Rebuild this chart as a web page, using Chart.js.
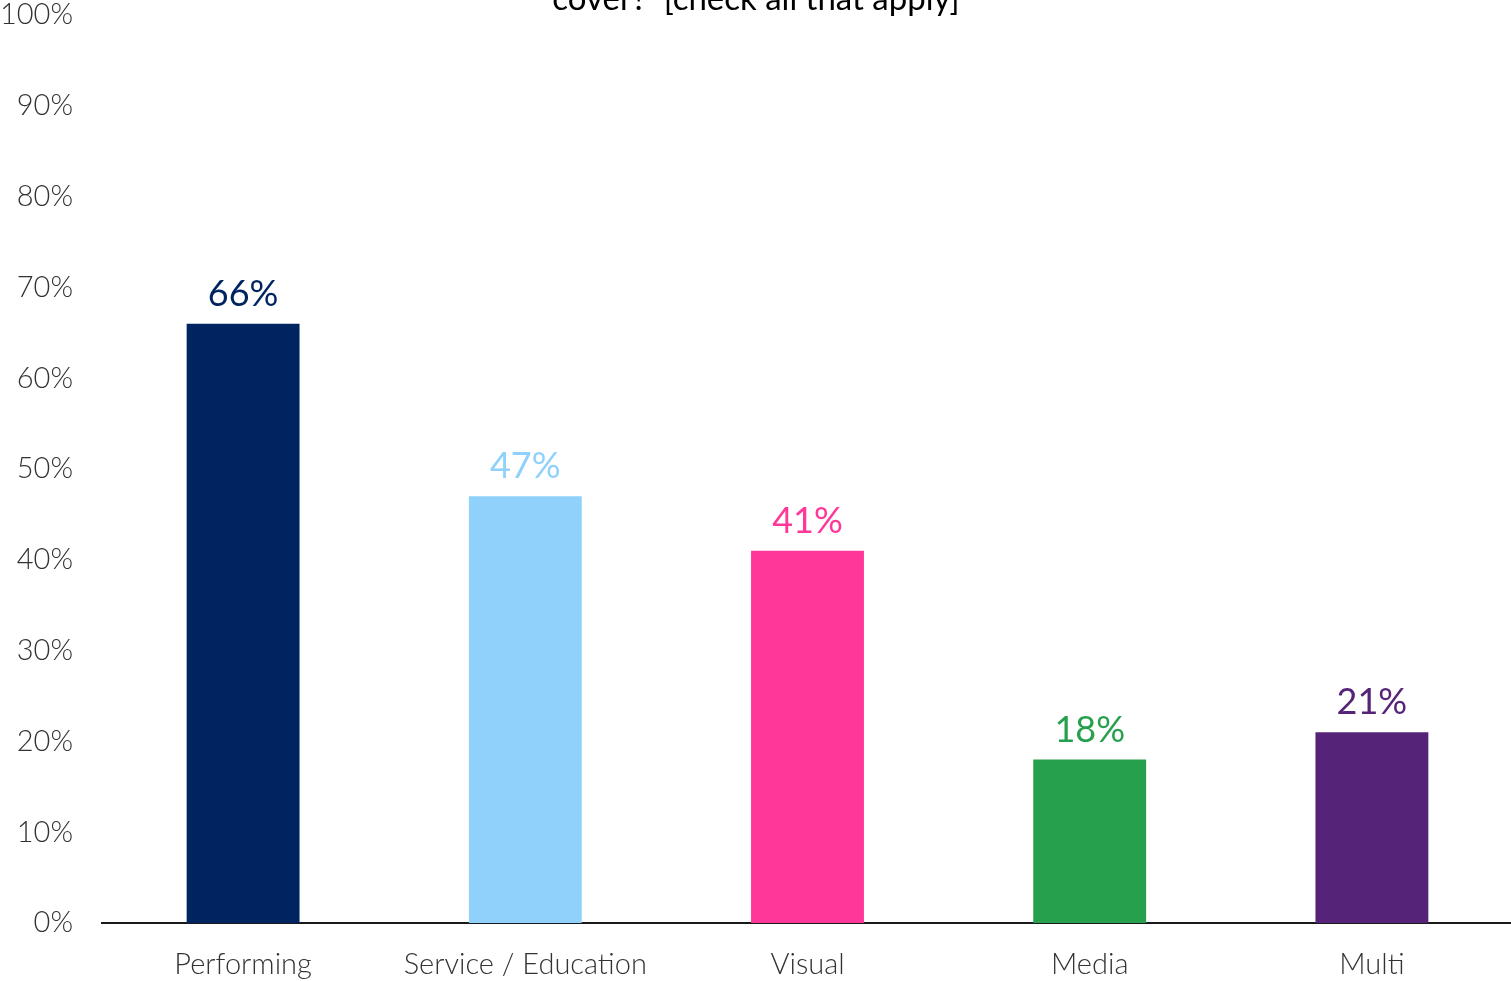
<!DOCTYPE html>
<html>
<head>
<meta charset="utf-8">
<title>Disciplines covered</title>
<script src="https://cdn.jsdelivr.net/npm/chart.js@4/dist/chart.umd.min.js"></script>
<style>
  html, body { margin: 0; padding: 0; background: #ffffff; overflow: hidden; }
  #wrap { width: 1513px; height: 981px; position: relative; }
</style>
</head>
<body>
<div id="wrap"><canvas id="chart"></canvas></div>
<script>
// Data
const categories = ['Performing', 'Service / Education', 'Visual', 'Media', 'Multi'];
const shares = [66, 47, 41, 18, 21];
const barColors = ['#00245f', '#8fd1fa', '#ff3799', '#26a04d', '#552377'];
const yTicks = [0, 10, 20, 30, 40, 50, 60, 70, 80, 90, 100];
const titleTail = 'cover?  [check all that apply]';

const FONT = 'Lato, "Open Sans", sans-serif';

// Second line of the question, sitting at the very top edge of the page
const titlePlugin = {
  id: 'titleTail',
  afterDraw(chart) {
    const ctx = chart.ctx;
    ctx.save();
    ctx.font = '400 33px ' + FONT;
    ctx.fillStyle = '#000000';
    ctx.textAlign = 'center';
    ctx.textBaseline = 'alphabetic';
    ctx.fillText(titleTail, 756, 10);
    ctx.restore();
  }
};

// Percentage labels above each bar, coloured like the bar
const valueLabels = {
  id: 'valueLabels',
  afterDatasetsDraw(chart) {
    const ctx = chart.ctx;
    const meta = chart.getDatasetMeta(0);
    ctx.save();
    ctx.font = '400 36px ' + FONT;
    ctx.textAlign = 'center';
    ctx.textBaseline = 'alphabetic';
    meta.data.forEach((bar, i) => {
      ctx.fillStyle = barColors[i];
      ctx.fillText(shares[i] + '%', bar.x, bar.y - 18);
    });
    ctx.restore();
  }
};

new Chart(document.getElementById('chart'), {
  type: 'bar',
  data: {
    labels: categories,
    datasets: [{
      data: shares,
      backgroundColor: barColors,
      borderWidth: 0,
      categoryPercentage: 1.0,
      barPercentage: 0.4
    }]
  },
  options: {
    responsive: true,
    maintainAspectRatio: false,
    animation: false,
    events: [],
    layout: { padding: { top: 15, right: 0, bottom: 0, left: 0 } },
    plugins: {
      legend: { display: false },
      tooltip: { enabled: false },
      title: { display: false }
    },
    scales: {
      x: {
        grid: { display: false, drawTicks: false },
        border: { display: true, color: '#1a1a1a', width: 2 },
        ticks: {
          color: '#333333',
          font: { family: FONT, size: 29, weight: '300' },
          padding: 24,
          maxRotation: 0
        },
        afterFit(scale) {
          scale.height = 58;
          scale.paddingLeft = 0;
          scale.paddingRight = 0;
        }
      },
      y: {
        min: 0,
        max: 100,
        afterBuildTicks(scale) { scale.ticks = yTicks.map(v => ({ value: v })); },
        grid: { display: false, drawTicks: false },
        border: { display: false },
        ticks: {
          color: '#333333',
          font: { family: FONT, size: 29, weight: '300' },
          padding: 29,
          callback: v => v + '%'
        },
        afterFit(scale) {
          scale.width = 102;
          scale.paddingTop = 0;
          scale.paddingBottom = 0;
        }
      }
    }
  },
  plugins: [titlePlugin, valueLabels]
});
</script>
</body>
</html>
